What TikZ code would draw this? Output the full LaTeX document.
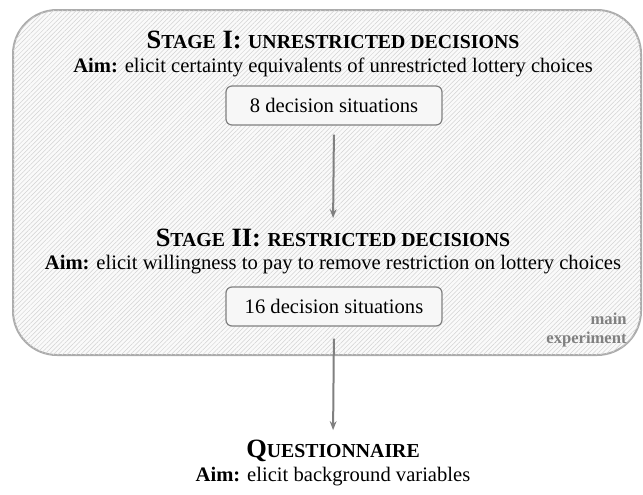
\documentclass[tikz,border=0pt]{standalone}
\usepackage{fontspec}
\setmainfont{Liberation Serif}
\usetikzlibrary{arrows.meta,patterns.meta}

\newcommand{\capsmall}[1]{{\fontsize{9.9}{11}\selectfont #1}}
\newcommand{\capbig}{\bfseries\fontsize{13.2}{15}\selectfont}

\tikzset{
  frame/.style={draw=gray!65, line width=1pt, rounded corners=22pt, fill=gray!4,
    postaction={pattern={Lines[angle=45,distance=1.6pt,line width=0.25pt]}, pattern color=gray!35}},
  situation/.style={draw=gray, line width=0.6pt, rounded corners=3pt, fill=white!94!gray,
    minimum width=108pt, minimum height=19.5pt, inner sep=0pt, font=\fontsize{10.3}{12}\selectfont},
  heading/.style={anchor=base, inner sep=0pt},
  aimline/.style={anchor=base, inner sep=0pt, font=\fontsize{10.3}{12}\selectfont},
  flow/.style={draw=gray, line width=1pt, -{Stealth[length=4.5pt,width=3.4pt]}}
}

\begin{document}
\begin{tikzpicture}[x=0.5pt,y=-0.5pt]
            \useasboundingbox (0,0) rectangle (643,494);

            \draw[frame] (13,10) rectangle (641,355);

            \node[heading] (title1) at (333,48) { \capbig S\capsmall{TAGE} I: \capsmall{UNRESTRICTED DECISIONS} };
            \node[aimline] (aim1) at (333,72) { \textbf{Aim:} elicit certainty equivalents of unrestricted lottery choices };
            \node[situation] (sit1) at (334,105.5) { 8 decision situations };

            \node[heading] (title2) at (333,246) { \capbig S\capsmall{TAGE} II: \capsmall{RESTRICTED DECISIONS} };
            \node[aimline] (aim2) at (333,269) { \textbf{Aim:} elicit willingness to pay to remove restriction on lottery choices };
            \node[situation] (sit2) at (334,306.5) { 16 decision situations };

            \node[anchor=base east, inner sep=0pt, text=gray, font=\bfseries\fontsize{8.3}{9.5}\selectfont] (main) at (627,324) { main };
            \node[anchor=base east, inner sep=0pt, text=gray, font=\bfseries\fontsize{8.3}{9.5}\selectfont] (expt) at (627,343) { experiment };

            \node[heading] (title3) at (333,457) { \capbig Q\capsmall{UESTIONNAIRE} };
            \node[aimline] (aim3) at (333,481) { \textbf{Aim:} elicit background variables };

            \draw[flow, shorten <=4.5pt, shorten >=5pt] (sit1.south) -- (title2.north);
            \draw[flow, shorten <=6pt, shorten >=4.5pt] (sit2.south) -- (title3.north);
        \end{tikzpicture}
\end{document}
